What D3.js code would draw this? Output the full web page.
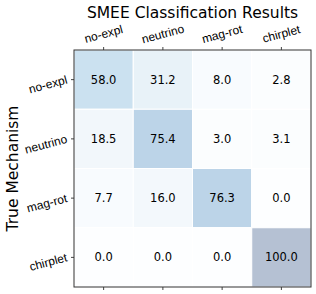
<!DOCTYPE html>
<html>
<head>
<meta charset="utf-8">
<script src="https://cdn.jsdelivr.net/npm/d3@7"></script>
<style>
  body { margin: 0; background: #fff; }
  svg { font-family: "DejaVu Sans", sans-serif; }
</style>
</head>
<body>
<svg id="chart" width="316" height="294"></svg>
<script>
const classes = ['no-expl', 'neutrino', 'mag-rot', 'chirplet'];
// rows = true mechanism, columns = classified as
const values = [
  [58.0, 31.2, 8.0, 2.8],
  [18.5, 75.4, 3.0, 3.1],
  [7.7, 16.0, 76.3, 0.0],
  [0.0, 0.0, 0.0, 100.0]
];

const margin = { top: 50, right: 5, bottom: 7, left: 74 };
const size = 237;

const svg = d3.select('#chart');
const g = svg.append('g').attr('transform', `translate(${margin.left},${margin.top})`);

const x = d3.scaleBand().domain(classes).range([0, size]);
const y = d3.scaleBand().domain(classes).range([0, size]);
const color = v => {
  const c = d3.rgb(d3.interpolateBlues(v / 100));
  const a = 0.3;
  return d3.rgb(c.r * a + 255 * (1 - a), c.g * a + 255 * (1 - a), c.b * a + 255 * (1 - a));
};

const cells = [];
values.forEach((row, i) => row.forEach((v, j) => cells.push({ r: classes[i], c: classes[j], v })));

g.selectAll('rect.cell')
  .data(cells)
  .join('rect')
  .attr('class', 'cell')
  .attr('x', d => x(d.c))
  .attr('y', d => y(d.r))
  .attr('width', x.bandwidth())
  .attr('height', y.bandwidth())
  .attr('fill', d => color(d.v))
  .attr('stroke', '#fff')
  .attr('stroke-width', 1);

g.selectAll('text.val')
  .data(cells)
  .join('text')
  .attr('class', 'val')
  .attr('x', d => x(d.c) + x.bandwidth() / 2)
  .attr('y', d => y(d.r) + y.bandwidth() / 2)
  .attr('text-anchor', 'middle')
  .attr('dominant-baseline', 'central')
  .attr('font-size', 11.5)
  .attr('fill', '#000')
  .text(d => d.v.toFixed(1));

// Top axis with rotated labels
const topAxis = g.append('g').call(d3.axisTop(x).tickSize(3).tickPadding(9));
topAxis.select('.domain').remove();
topAxis.selectAll('line').attr('stroke', '#444');
topAxis.selectAll('text')
  .attr('font-size', 12)
  .attr('fill', '#000')
  .attr('text-anchor', 'middle')
  .attr('transform', 'rotate(-15,0,-16)');

// Bottom ticks, no labels
const bottomAxis = g.append('g')
  .attr('transform', `translate(0,${size})`)
  .call(d3.axisBottom(x).tickSize(3).tickFormat(''));
bottomAxis.select('.domain').remove();
bottomAxis.selectAll('line').attr('stroke', '#444');

// Left axis
const leftAxis = g.append('g').call(d3.axisLeft(y).tickSize(3).tickPadding(4));
leftAxis.select('.domain').remove();
leftAxis.selectAll('line').attr('stroke', '#444');
leftAxis.selectAll('text')
  .attr('font-size', 12)
  .attr('fill', '#000')
  .attr('transform', function () {
    return 'rotate(-15,' + d3.select(this).attr('x') + ',0)';
  });

// Frame
g.append('rect')
  .attr('width', size)
  .attr('height', size)
  .attr('fill', 'none')
  .attr('stroke', '#333')
  .attr('stroke-width', 1);

svg.append('text')
  .attr('x', margin.left + size / 2)
  .attr('y', 18)
  .attr('text-anchor', 'middle')
  .attr('font-size', 15.5)
  .attr('fill', '#000')
  .text('SMEE Classification Results');

svg.append('text')
  .attr('transform', `translate(18,${margin.top + size / 2}) rotate(-90)`)
  .attr('text-anchor', 'middle')
  .attr('font-size', 15.5)
  .attr('fill', '#000')
  .text('True Mechanism');
</script>
</body>
</html>
